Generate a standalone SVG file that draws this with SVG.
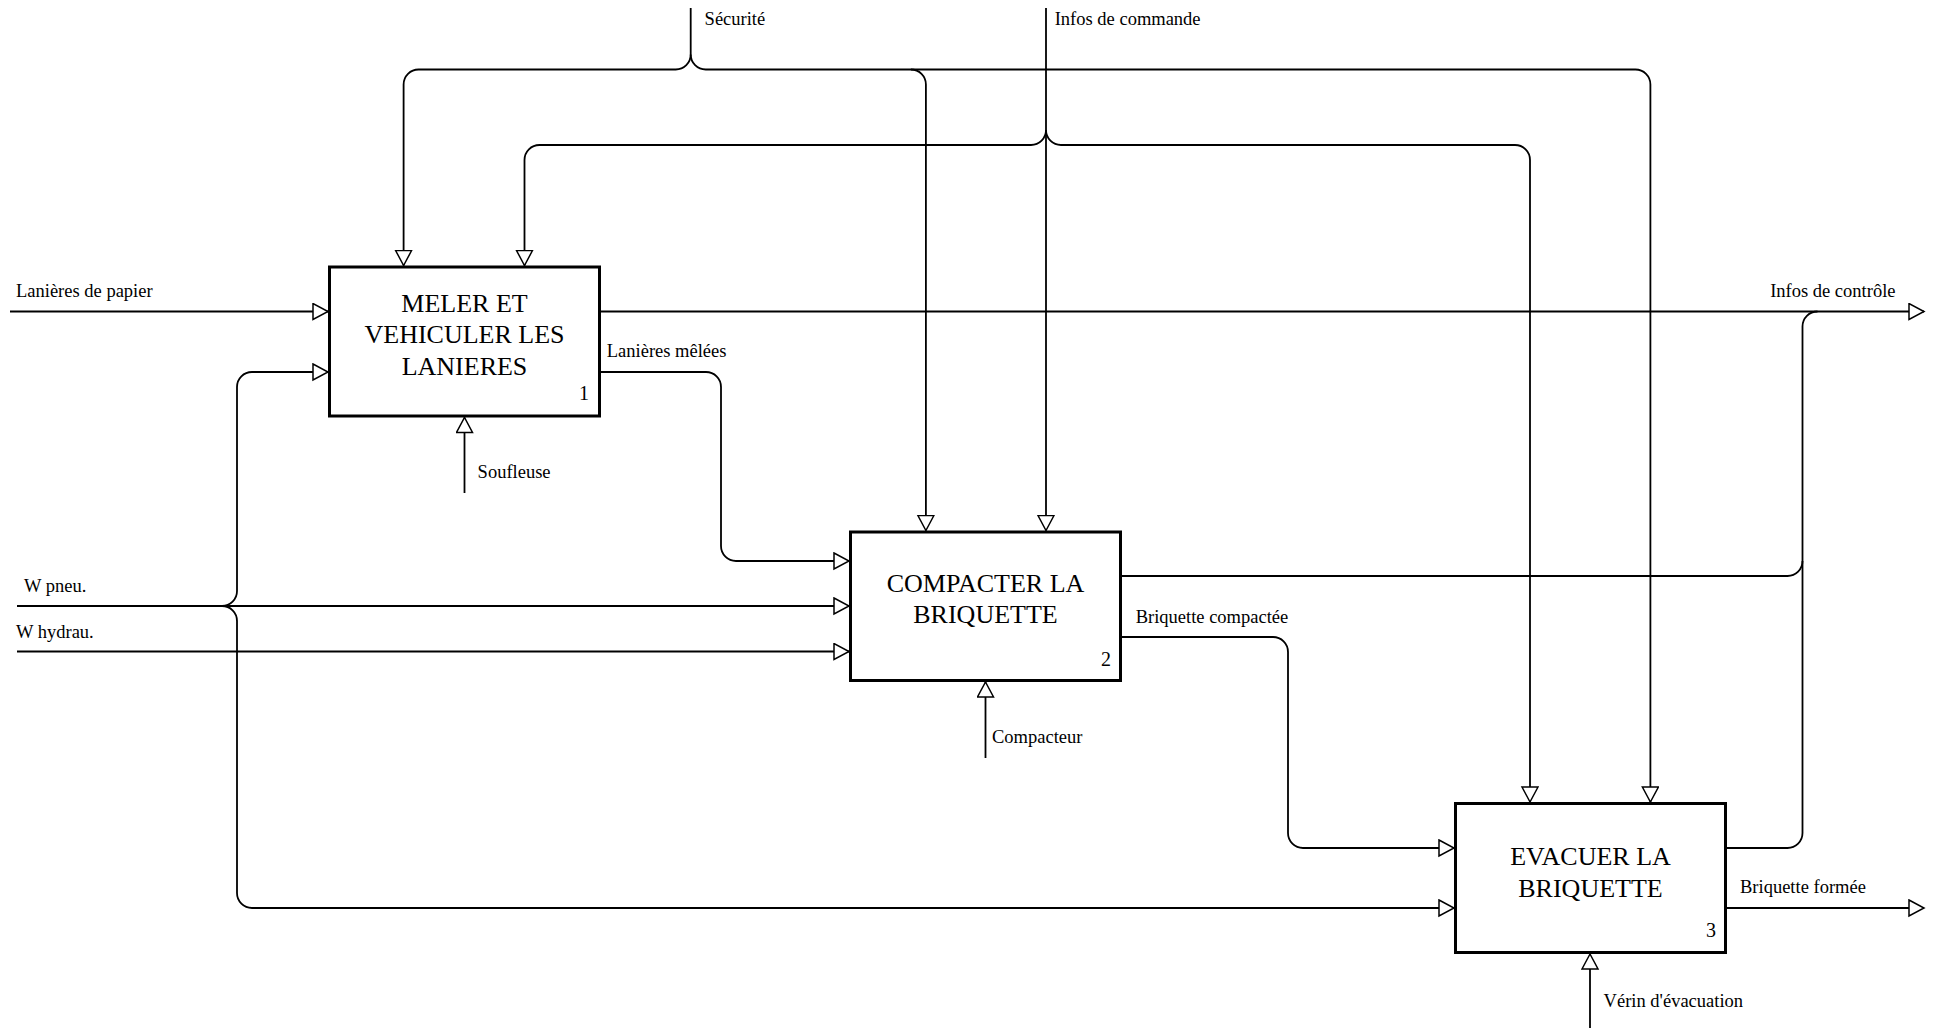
<svg xmlns="http://www.w3.org/2000/svg" width="1933" height="1033" viewBox="0 0 1933 1033">
<style>
.box{fill:#fff;stroke:#000;stroke-width:3}
.t{font-family:"Liberation Serif","Times New Roman",serif;fill:#000}
.bt{font-size:26px;text-anchor:middle}
.num{font-size:20px;text-anchor:end}
.lbl{font-size:18.5px}
.c{fill:none;stroke:#000;stroke-width:1.8}
.a{marker-end:url(#arr)}
</style>
<defs>
<marker id="arr" markerUnits="userSpaceOnUse" markerWidth="18" markerHeight="20" viewBox="0 0 18 20" refX="16" refY="9" orient="auto">
<path d="M1,1 L16,9 L1,17 Z" fill="#fff" stroke="#000" stroke-width="1.5"/>
</marker>
</defs>
<rect width="1933" height="1033" fill="#fff"/>
<g id="connectors">
<path class="c a" d="M690.7,8 V54.5 A15,15 0 0 1 675.7,69.5 H418.6 A15,15 0 0 0 403.6,84.5 V265.5"/>
<path class="c a" d="M690.7,54.5 A15,15 0 0 0 705.7,69.5 H1635.4 A15,15 0 0 1 1650.4,84.5 V802"/>
<path class="c a" d="M910.9,69.5 A15,15 0 0 1 925.9,84.5 V530.5"/>
<path class="c a" d="M1046,8 V530.5"/>
<path class="c a" d="M1046,130 A15,15 0 0 1 1031,145 H539.5 A15,15 0 0 0 524.5,160 V265.5"/>
<path class="c a" d="M1046,130 A15,15 0 0 0 1061,145 H1515 A15,15 0 0 1 1530,160 V802"/>
<path class="c a" d="M10,311.5 H328"/>
<path class="c a" d="M601,311.5 H1924"/>
<path class="c" d="M1727,848 H1787.5 A15,15 0 0 0 1802.5,833 V326.5 A15,15 0 0 1 1817.5,311.5"/>
<path class="c" d="M1122,576 H1787.5 A15,15 0 0 0 1802.5,561"/>
<path class="c a" d="M601,372 H706 A15,15 0 0 1 721,387 V546 A15,15 0 0 0 736,561 H849"/>
<path class="c a" d="M17,606 H849"/>
<path class="c a" d="M222,606 A15,15 0 0 0 237,591 V387 A15,15 0 0 1 252,372 H328"/>
<path class="c a" d="M222,606 A15,15 0 0 1 237,621 V893 A15,15 0 0 0 252,908 H1454"/>
<path class="c a" d="M17,651.5 H849"/>
<path class="c a" d="M1122,637 H1273 A15,15 0 0 1 1288,652 V833 A15,15 0 0 0 1303,848 H1454"/>
<path class="c a" d="M1727,908 H1924"/>
<path class="c a" d="M464.5,493 V417.5"/>
<path class="c a" d="M985.5,758 V682"/>
<path class="c a" d="M1590,1028 V954"/>
</g>
<g id="labels" class="t lbl">
<text x="704.6" y="25">Sécurité</text>
<text x="1054.7" y="25">Infos de commande</text>
<text x="16" y="296.7">Lanières de papier</text>
<text x="1895.5" y="296.7" text-anchor="end">Infos de contrôle</text>
<text x="606.8" y="357">Lanières mêlées</text>
<text x="477.6" y="478">Soufleuse</text>
<text x="24" y="591.7">W pneu.</text>
<text x="16" y="638.3">W hydrau.</text>
<text x="1135.7" y="622.7">Briquette compactée</text>
<text x="992" y="743.3">Compacteur</text>
<text x="1740" y="893.3">Briquette formée</text>
<text x="1603.6" y="1006.7">Vérin d'évacuation</text>
</g>
<g id="node1">
<rect class="box" x="329.5" y="267" width="270" height="149"/>
<text class="t bt" x="464.5" y="311.7">MELER ET</text>
<text class="t bt" x="464.5" y="343.3">VEHICULER LES</text>
<text class="t bt" x="464.5" y="375">LANIERES</text>
<text class="t num" x="589" y="400">1</text>
</g>
<g id="node2">
<rect class="box" x="850.5" y="532" width="270" height="148.5"/>
<text class="t bt" x="985.5" y="591.7">COMPACTER LA</text>
<text class="t bt" x="985.5" y="623.3">BRIQUETTE</text>
<text class="t num" x="1111" y="665.7">2</text>
</g>
<g id="node3">
<rect class="box" x="1455.5" y="803.5" width="270" height="149"/>
<text class="t bt" x="1590.5" y="865">EVACUER LA</text>
<text class="t bt" x="1590.5" y="896.7">BRIQUETTE</text>
<text class="t num" x="1716" y="936.7">3</text>
</g>
</svg>
